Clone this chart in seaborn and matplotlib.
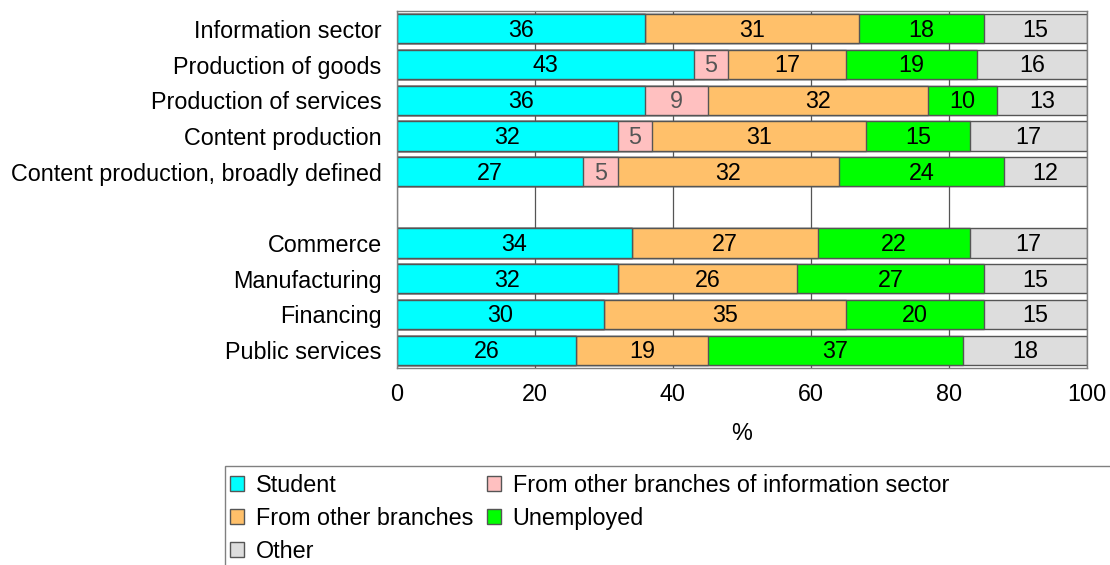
import matplotlib
matplotlib.use("Agg")
import matplotlib.pyplot as plt
from matplotlib.patches import Patch, Rectangle
import seaborn as sns
import numpy as np

categories = ["Information sector", "Production of goods", "Production of services",
              "Content production", "Content production, broadly defined",
              "Commerce", "Manufacturing", "Financing", "Public services"]
series_names = ["Student", "From other branches of information sector",
                "From other branches", "Unemployed", "Other"]
student = [36, 43, 36, 32, 27, 34, 32, 30, 26]
info_other = [0, 5, 9, 5, 5, 0, 0, 0, 0]
other_branches = [31, 17, 32, 31, 32, 27, 26, 35, 19]
unemployed = [18, 19, 10, 15, 24, 22, 27, 20, 37]
other = [15, 16, 13, 17, 12, 17, 15, 15, 18]
x_ticks = [0, 20, 40, 60, 80, 100]

colors = ["#00FFFF", "#FFC0C0", "#FFC06A", "#00FF00", "#DDDDDD"]
label_colors = ["black", "#555555", "black", "black", "black"]

# category order with a blank spacer row
order = categories[:5] + [""] + categories[5:]

sns.set_style("white")
plt.rcParams["font.family"] = ["Liberation Sans", "DejaVu Sans"]
for k in ["text.color", "axes.labelcolor", "xtick.color", "ytick.color"]:
    plt.rcParams[k] = "black"

FS = 16.8

fig = plt.figure(figsize=(11.1, 5.65), dpi=100)
ax = fig.add_axes([397 / 1110, 1 - 368 / 565, 690 / 1110, 357 / 565])

series = [student, info_other, other_branches, unemployed, other]
cum = np.cumsum(np.array(series, dtype=float), axis=0)

# draw cumulative bars from the rightmost layer to the leftmost
for i in range(len(series) - 1, -1, -1):
    sns.barplot(x=list(cum[i]), y=categories, order=order, orient="h",
                color=colors[i], saturation=1, width=0.82,
                edgecolor="#555555", linewidth=1.0, ax=ax, zorder=2)

# value labels
pos = {c: order.index(c) for c in categories}
for i, vals in enumerate(series):
    for j, c in enumerate(categories):
        v = vals[j]
        if v > 0:
            xc = cum[i][j] - v / 2
            ax.text(xc, pos[c] + 0.04, f"{v}", ha="center", va="center",
                    fontsize=FS, color=label_colors[i], zorder=5)

ax.set_xlim(0, 100)
ax.set_xticks(x_ticks)
ax.set_xticklabels([str(t) for t in x_ticks])
ax.set_xlabel("%", fontsize=FS, labelpad=11)
ax.set_ylabel("")
ax.tick_params(axis="x", length=0, pad=11, labelsize=FS, colors="black")
ax.tick_params(axis="y", length=0, pad=11, labelsize=FS, colors="black")
ax.set_axisbelow(True)
ax.xaxis.grid(True, color="#555555", linewidth=0.9)
ax.yaxis.grid(False)
for s in ax.spines.values():
    s.set_visible(True)
    s.set_color("#808080")
    s.set_linewidth(1.0)

# legend
handles = [Patch(facecolor=colors[k], edgecolor="#555555", linewidth=1.0, label=series_names[k])
           for k in [0, 2, 4, 1, 3]]
leg = fig.legend(handles=handles, loc="upper left", ncol=2,
                 bbox_to_anchor=(230 / 1110, 1 - 474 / 565), bbox_transform=fig.transFigure,
                 frameon=False, fontsize=FS, handlelength=0.6, handleheight=0.6,
                 handletextpad=0.5, columnspacing=0.6, labelspacing=0.42, borderpad=0,
                 borderaxespad=0)
fig.patches.append(Rectangle((225 / 1110, -0.2), 0.82, 1 - 466 / 565 + 0.2,
                             transform=fig.transFigure, fill=False,
                             edgecolor="#808080", linewidth=1.0))

fig.savefig("out.png", dpi=100)
